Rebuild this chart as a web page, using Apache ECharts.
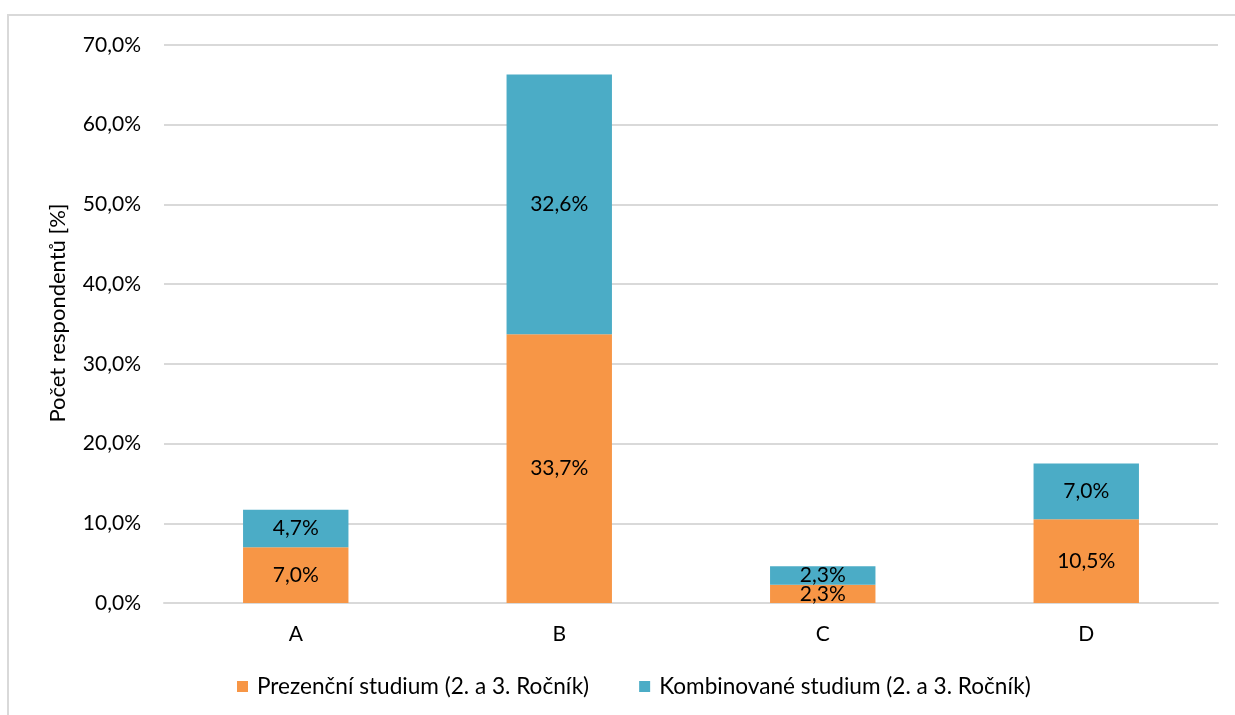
<!DOCTYPE html>
<html>
<head>
<meta charset="utf-8">
<script src="https://cdn.jsdelivr.net/npm/echarts@6/dist/echarts.min.js"></script>
<style>
  html, body { margin: 0; padding: 0; background: #fff; }
  #frame { position: absolute; left: 7px; top: 14px; width: 1240px; height: 720px; border: 2px solid #d9d9d9; box-sizing: border-box; }
  #chart { position: absolute; left: 0; top: 0; width: 1235px; height: 715px; }
</style>
</head>
<body>
<div id="frame"></div>
<div id="chart"></div>
<script>
// Categories and stacked shares (percent of respondents)
const categories = ['A', 'B', 'C', 'D'];
const prezencni = [7.0, 33.7, 2.3, 10.5];
const kombinovane = [4.7, 32.6, 2.3, 7.0];
const seriesNames = ['Prezenční studium (2. a 3. Ročník)', 'Kombinované studium (2. a 3. Ročník)'];
const yAxisTitle = 'Počet respondentů [%]';

const FONT = 'Lato, "Open Sans", sans-serif';
const fmt = v => v.toFixed(1).replace('.', ',') + '%';

const chart = echarts.init(document.getElementById('chart'), null, { renderer: 'canvas' });

const labelCfg = {
  show: true,
  position: 'inside',
  color: '#000',
  fontFamily: FONT,
  fontSize: 21,
  formatter: p => fmt(p.value)
};

chart.setOption({
  backgroundColor: 'transparent',
  animation: false,
  grid: { left: 164, right: 17, top: 45, bottom: 112, containLabel: false },
  legend: {
    bottom: 12,
    left: 232,
    itemWidth: 11,
    itemHeight: 11,
    itemGap: 50,
    icon: 'rect',
    textStyle: { fontFamily: FONT, fontSize: 22.6, color: '#000', padding: [0, 0, 0, 4] },
    data: seriesNames
  },
  xAxis: {
    type: 'category',
    data: categories,
    axisLine: { show: true, lineStyle: { color: '#d9d9d9', width: 2 } },
    axisTick: { show: false },
    axisLabel: { color: '#000', fontFamily: FONT, fontSize: 21, margin: 21 }
  },
  yAxis: {
    type: 'value',
    min: 0,
    max: 70,
    interval: 10,
    name: yAxisTitle,
    nameLocation: 'middle',
    nameGap: 95,
    nameRotate: 90,
    nameTextStyle: { color: '#000', fontFamily: FONT, fontSize: 22, padding: [0, 0, 0, 22] },
    axisLine: { show: false },
    axisTick: { show: false },
    splitLine: { lineStyle: { color: '#d9d9d9', width: 2 } },
    axisLabel: { color: '#000', fontFamily: FONT, fontSize: 21, margin: 23, formatter: v => fmt(v) }
  },
  series: [
    {
      name: seriesNames[0],
      type: 'bar',
      stack: 'total',
      barWidth: '40%',
      itemStyle: { color: '#F79646' },
      label: labelCfg,
      data: prezencni
    },
    {
      name: seriesNames[1],
      type: 'bar',
      stack: 'total',
      barWidth: '40%',
      itemStyle: { color: '#4BACC6' },
      label: labelCfg,
      data: kombinovane
    }
  ]
});
</script>
</body>
</html>
